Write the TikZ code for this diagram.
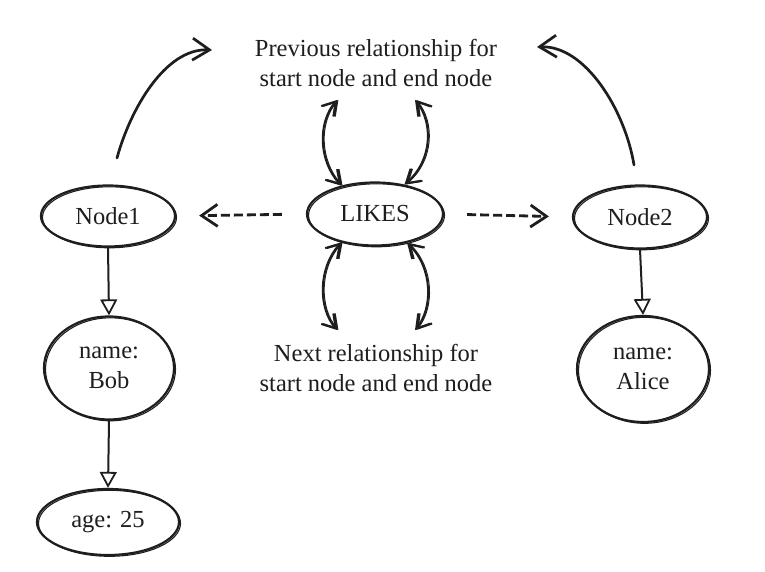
\documentclass[tikz,border=0pt]{standalone}
\usepackage{fontspec}
\setmainfont{Liberation Serif}
\usetikzlibrary{shapes.geometric,arrows.meta}
\definecolor{ink}{HTML}{1E1E1E}
\begin{document}
\begin{tikzpicture}[x=1pt,y=-1pt,
  every node/.style={font=\fontsize{24.5}{30}\selectfont, text=ink},
  ent/.style={ellipse, draw=ink, line width=2.2pt, inner sep=0pt, align=center,
     postaction={draw=ink, line width=1.1pt, transform canvas={xshift=1.5pt,yshift=-1.3pt}}},
  lbl/.style={align=center, inner sep=0pt},
  bigarr/.style={draw=ink, line width=2.7pt, line cap=round,
     -{Straight Barb[length=17pt,width=22pt,line width=2.7pt]}},
  dblarr/.style={draw=ink, line width=2pt, line cap=round,
     {Straight Barb[length=13pt,width=16pt,line width=2pt]}-{Straight Barb[length=13pt,width=16pt,line width=2pt]},
     postaction={draw=ink, line width=1pt, transform canvas={xshift=1.4pt}}},
  dasharr/.style={draw=ink, line width=2.8pt, dash pattern=on 9pt off 4pt,
     -{Straight Barb[length=16pt,width=22pt,line width=2.8pt]}},
  proparr/.style={draw=ink, line width=2pt,
     -{Triangle[open,length=16pt,width=17pt,line width=1.8pt]}}
]
\fill[white] (0,0) rectangle (765,572);
\useasboundingbox (0,0) rectangle (765,572);

% nodes
\node[ent, minimum width=134pt, minimum height=61pt] (n1) at (108,216) {Node1};
\node[ent, minimum width=136pt, minimum height=63pt] (likes) at (375,214) {LIKES};
\node[ent, minimum width=134pt, minimum height=63pt] (n2) at (640,217) {Node2};
\node[ent, minimum width=130pt, minimum height=103pt] (bob) at (109,368) {name:\\Bob};
\node[ent, minimum width=132pt, minimum height=106pt] (alice) at (643,369) {name:\\Alice};
\node[ent, minimum width=142pt, minimum height=66pt] (age) at (108,522) {age: 25};
\node[lbl] (prev) at (376,63) {Previous relationship for\\start node and end node};
\node[lbl] (next) at (376,368) {Next relationship for\\start node and end node};

% free ends
\coordinate (u1s) at (117,158);
\coordinate (u1e) at (212,50);
\coordinate (u2s) at (634,165);
\coordinate (u2e) at (537,47);
\coordinate (tl) at (337,100);
\coordinate (tr) at (415,100);
\coordinate (bl) at (337,330);
\coordinate (br) at (415,330);

% curved arrows to previous-relationship text
\draw[bigarr] (u1s) .. controls (130,110) and (165,48) .. (u1e);
\draw[bigarr] (u2s) .. controls (625,110) and (585,45) .. (u2e);

% double arrows around LIKES
\draw[dblarr] (likes.140) .. controls (318,160) and (318,122) .. (tl);
\draw[dblarr] (likes.45) .. controls (433,160) and (433,122) .. (tr);
\draw[dblarr] (likes.220) .. controls (318,268) and (318,308) .. (bl);
\draw[dblarr] (likes.318) .. controls (433,268) and (433,308) .. (br);

% dashed arrows
\draw[dasharr, shorten <=24pt, shorten >=23pt] (likes.west) -- (n1.east);
\draw[dasharr, shorten <=23pt, shorten >=23pt] (likes.east) -- (n2.west);

% property arrows
\draw[proparr] (n1.south) -- (bob.north);
\draw[proparr] (bob.south) -- (age.north);
\draw[proparr] (n2.south) -- (alice.north);
\end{tikzpicture}
\end{document}
